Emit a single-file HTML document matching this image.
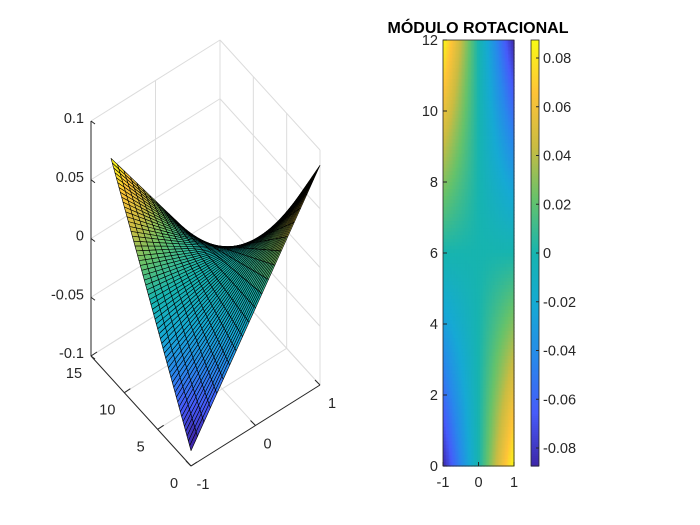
<!DOCTYPE html>
<html><head><meta charset="utf-8"><style>
html,body{margin:0;padding:0;background:#fff;}
svg{display:block;font-family:"Liberation Sans",sans-serif;}
</style></head><body>
<svg id="s" width="700" height="525" xmlns="http://www.w3.org/2000/svg">
<rect width="700" height="525" fill="#fff"/>
<g id="grid" stroke="#dcdcdc" stroke-width="1" fill="none"></g>
<g id="surf"></g>
<g id="axes" stroke="#262626" stroke-width="1" fill="none"></g>
<g id="heat"></g>
<g id="cbar"></g>
<g id="txt" fill="#262626" font-size="14.5"></g>
<text x="478" y="33" text-anchor="middle" font-size="16" font-weight="bold" fill="#000">MÓDULO ROTACIONAL</text>
</svg>
<script>
var NS="http://www.w3.org/2000/svg";
var P=[[0,[62,38,168]],[0.125,[70,91,250]],[0.25,[40,136,235]],[0.375,[22,169,212]],[0.5,[23,180,175]],[0.625,[101,194,107]],[0.75,[202,188,66]],[0.875,[254,195,56]],[1,[249,251,21]]];
function par(t){t=Math.max(0,Math.min(1,t));for(var i=0;i<P.length-1;i++){if(t<=P[i+1][0]){var f=(t-P[i][0])/(P[i+1][0]-P[i][0]);var a=P[i][1],b=P[i+1][1];return "rgb("+Math.round(a[0]+(b[0]-a[0])*f)+","+Math.round(a[1]+(b[1]-a[1])*f)+","+Math.round(a[2]+(b[2]-a[2])*f)+")";}}return "rgb(249,251,21)";}
var ZM=0.0874;
function col(z){return par((z+ZM)/(2*ZM));}
function Z(x,y){return -x*(y-6)/6*0.087;}
function pj(x,y,z){var u=(x+1)/2,v=y/15,w=(z+0.1)/0.2;return [191+129*u-100*v,466-81*u-110*v-235*w,23500*u+30315*v-22290*w];}
function el(tag,at,par_){var e=document.createElementNS(NS,tag);for(var k in at)e.setAttribute(k,at[k]);document.getElementById(par_).appendChild(e);return e;}
function line(a,b,g){el("line",{x1:a[0],y1:a[1],x2:b[0],y2:b[1]},g);}
[-1,0,1].forEach(function(x){line(pj(x,0,-0.1),pj(x,15,-0.1),"grid");});
[0,5,10,15].forEach(function(y){line(pj(-1,y,-0.1),pj(1,y,-0.1),"grid");});
[-1,0,1].forEach(function(x){line(pj(x,15,-0.1),pj(x,15,0.1),"grid");});
[-0.1,-0.05,0,0.05,0.1].forEach(function(z){line(pj(-1,15,z),pj(1,15,z),"grid");line(pj(1,0,z),pj(1,15,z),"grid");});
[0,5,10,15].forEach(function(y){line(pj(1,y,-0.1),pj(1,y,0.1),"grid");});
var nx=20,ny=60,q=[];
for(var i=0;i<nx;i++)for(var j=0;j<ny;j++){
 var x0=-1+2*i/nx,x1=-1+2*(i+1)/nx,y0=12*j/ny,y1=12*(j+1)/ny;
 var pts=[[x0,y0],[x1,y0],[x1,y1],[x0,y1]].map(function(p){return pj(p[0],p[1],Z(p[0],p[1]));});
 var d=(pts[0][2]+pts[1][2]+pts[2][2]+pts[3][2])/4;
 q.push([d,pts,Z(x0,y0)]);
}
q.sort(function(a,b){return b[0]-a[0];});
var sg=document.getElementById("surf"),frag=document.createDocumentFragment();
q.forEach(function(o){var e=document.createElementNS(NS,"polygon");e.setAttribute("points",o[1].map(function(p){return p[0].toFixed(2)+","+p[1].toFixed(2);}).join(" "));e.setAttribute("fill",col(o[2]));e.setAttribute("stroke","#000");e.setAttribute("stroke-width","0.6");e.setAttribute("stroke-linejoin","round");frag.appendChild(e);});
sg.appendChild(frag);
line(pj(-1,15,-0.1),pj(-1,15,0.1),"axes");
line(pj(-1,0,-0.1),pj(-1,15,-0.1),"axes");
line(pj(-1,0,-0.1),pj(1,0,-0.1),"axes");
function T(x,y,s,anc){var e=el("text",{x:x,y:y,"text-anchor":anc||"middle"},"txt");e.textContent=s;}
[[0.1,"0.1"],[0.05,"0.05"],[0,"0"],[-0.05,"-0.05"],[-0.1,"-0.1"]].forEach(function(a){var p=pj(-1,15,a[0]);line(p,[p[0]+4,p[1]+3],"axes");T(p[0]-7,p[1]+2,a[1],"end");});
[[0,"0"],[5,"5"],[10,"10"],[15,"15"]].forEach(function(a){var p=pj(-1,a[0],-0.1);line(p,[p[0]+6,p[1]-4],"axes");T(p[0]-17,p[1]+22,a[1],"middle");});
[[-1,"-1"],[0,"0"],[1,"1"]].forEach(function(a){var p=pj(a[0],0,-0.1);line(p,[p[0]-5,p[1]-5],"axes");T(p[0]+12,p[1]+23,a[1],"middle");});
var hx0=443,hx1=514,hy0=40,hy1=466,cols=48,rows=120,hg=document.getElementById("heat"),f2=document.createDocumentFragment();
for(var i=0;i<cols;i++)for(var j=0;j<rows;j++){var x=-1+2*(i+0.5)/cols,y=12-12*(j+0.5)/rows;var e=document.createElementNS(NS,"rect");var X=hx0+(hx1-hx0)*i/cols,Y=hy0+(hy1-hy0)*j/rows;e.setAttribute("x",X.toFixed(2));e.setAttribute("y",Y.toFixed(2));e.setAttribute("width",((hx1-hx0)/cols+0.6).toFixed(2));e.setAttribute("height",((hy1-hy0)/rows+0.6).toFixed(2));e.setAttribute("fill",col(Z(x,y)));f2.appendChild(e);}
hg.appendChild(f2);
el("rect",{x:hx0,y:hy0,width:hx1-hx0,height:hy1-hy0,fill:"none",stroke:"#262626","stroke-width":"0.8"},"heat");
[0,2,4,6,8,10,12].forEach(function(v){var Y=hy1-(hy1-hy0)*v/12;el("line",{x1:hx0,y1:Y,x2:hx0+4,y2:Y,stroke:"#262626"},"heat");T(hx0-5,Y+5,String(v),"end");});
[-1,0,1].forEach(function(v){var X=hx0+(hx1-hx0)*(v+1)/2;el("line",{x1:X,y1:hy1,x2:X,y2:hy1-4,stroke:"#262626"},"heat");T(X,hy1+21,String(v),"middle");});
var cx=531,cw=8,cg=document.getElementById("cbar");
for(var k=0;k<213;k++){var Y=40+2*k;var z=ZM-2*ZM*(k+0.5)/213;el("rect",{x:cx,y:Y,width:cw,height:2.6,fill:col(z)},"cbar");}
el("rect",{x:cx,y:40,width:cw,height:426,fill:"none",stroke:"#262626","stroke-width":"0.8"},"cbar");
[0.08,0.06,0.04,0.02,0,-0.02,-0.04,-0.06,-0.08].forEach(function(v){var Y=253-v*2437.5;el("line",{x1:cx+cw-3,y1:Y,x2:cx+cw,y2:Y,stroke:"#262626"},"cbar");T(cx+cw+4,Y+5,v===0?"0":v.toFixed(2),"start");});
</script>
</body></html>
